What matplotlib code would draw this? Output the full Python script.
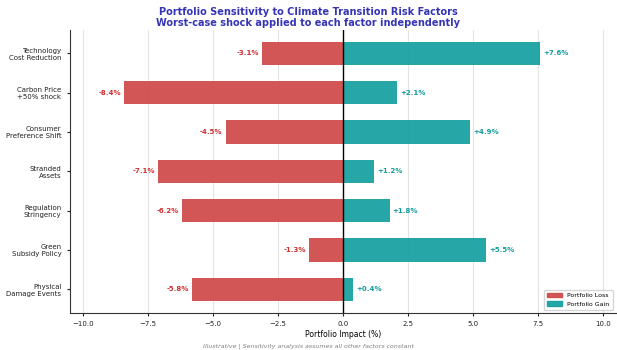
import numpy as np
import matplotlib.pyplot as plt
from matplotlib.patches import Patch

factors = ["Technology\nCost Reduction", "Carbon Price\n+50% shock", "Consumer\nPreference Shift",
           "Stranded\nAssets", "Regulation\nStringency", "Green\nSubsidy Policy", "Physical\nDamage Events"]
losses = [-3.1, -8.4, -4.5, -7.1, -6.2, -1.3, -5.8]
gains = [7.6, 2.1, 4.9, 1.2, 1.8, 5.5, 0.4]

loss_color = "#d04847"
gain_color = "#139f9f"

fig = plt.figure(figsize=(6.17, 3.5), dpi=100)
ax = fig.add_axes([0.113, 0.106, 0.885, 0.809])

y = np.arange(len(factors))[::-1]
ax.barh(y, losses, height=0.6, color=loss_color, alpha=0.92, zorder=3)
ax.barh(y, gains, height=0.6, color=gain_color, alpha=0.92, zorder=3)

for yi, lo, hi in zip(y, losses, gains):
    ax.text(lo - 0.12, yi, f"{lo:.1f}%", ha="right", va="center", fontsize=5,
            fontweight="bold", color="#d32f2f")
    ax.text(hi + 0.12, yi, f"+{hi:.1f}%", ha="left", va="center", fontsize=5,
            fontweight="bold", color="#139c9c")

ax.axvline(0, color="black", lw=1, zorder=4)
ax.set_xlim(-10.5, 10.5)
ax.set_ylim(-0.6, 6.6)
ax.set_xticks(np.arange(-10, 10.1, 2.5))
ax.set_yticks(y)
ax.set_yticklabels(factors)
ax.tick_params(axis="both", labelsize=5, length=2.5, colors="#222222")
ax.grid(axis="x", linestyle="-", color="#e3e3e3", lw=0.8, zorder=0)
for side in ["left", "bottom"]:
    ax.spines[side].set_color("#333333")
ax.spines["top"].set_visible(False)
ax.spines["right"].set_visible(False)
ax.set_xlabel("Portfolio Impact (%)", fontsize=5.5, labelpad=2)

fig.suptitle("Portfolio Sensitivity to Climate Transition Risk Factors\n"
             "Worst-case shock applied to each factor independently",
             fontsize=7, fontweight="bold", color="#3535b5", y=0.98, linespacing=1.1)

handles = [Patch(color=loss_color, alpha=0.92, label="Portfolio Loss"),
           Patch(color=gain_color, alpha=0.92, label="Portfolio Gain")]
ax.legend(handles=handles, loc="lower right", fontsize=4.5, frameon=True,
          handlelength=2.5, borderpad=0.5)

fig.text(0.5, 0.008, "Illustrative | Sensitivity analysis assumes all other factors constant",
         ha="center", fontsize=4.5, style="italic", color="gray")

fig.savefig("out.png", dpi=100)
